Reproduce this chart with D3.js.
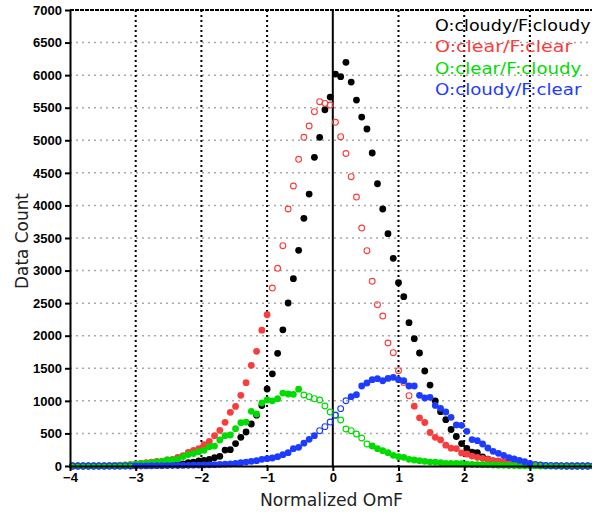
<!DOCTYPE html>
<html>
<head>
<meta charset="utf-8">
<script src="https://cdn.jsdelivr.net/npm/d3@7"></script>
<style>
  body { margin: 0; background: #fff; }
  svg { display: block; }
</style>
</head>
<body>
<svg id="chart" width="592" height="519"></svg>
<script>
// histogram bins of normalized OmF: 100 bins, 0.08 wide, from -4 to 4
const binStart = -3.96, binWidth = 0.08;

const cloudyCloudy = [
  0,0,0,0,0,0,0,1,1,1,
  2,2,3,4,5,6,8,11,15,20,
  25,32,50,61,80,85,100,128,148,245,
  250,345,440,522,645,780,927,1182,1415,1730,
  2090,2502,2875,3311,3802,4175,4739,5046,5469,5664,
  6017,5976,6197,5894,5618,5357,5173,4805,4333,3945,
  3566,3188,2814,2599,2200,1955,1735,1458,1243,998,
  834,711,560,453,345,270,212,205,140,105,
  78,60,45,34,25,18,12,8,5,3,
  2,2,1,1,0,0,0,0,0,0
];
const clearClear = [
  0,0,0,1,1,2,3,5,8,12,
  17,22,30,40,50,60,72,72,92,103,
  133,160,210,240,266,327,378,465,548,670,
  824,915,1085,1279,1546,1760,2085,2322,2732,3035,
  3382,3945,4298,4708,5046,5219,5439,5592,5567,5541,
  5276,5055,4797,4441,4129,3653,3305,2835,2476,2302,
  1888,1739,1463,1280,1079,918,740,668,514,440,
  400,320,274,268,200,184,152,133,118,100,
  82,77,70,60,51,40,30,20,12,8,
  5,3,2,1,1,0,0,0,0,0
];
const clearCloudy = [
  0,0,0,0,1,1,2,3,5,8,
  12,20,30,41,41,51,61,72,92,92,
  103,145,175,190,220,240,296,306,399,465,
  476,573,665,675,840,798,967,1013,1000,1033,
  1120,1105,1100,1180,1090,1064,1033,1013,921,829,
  783,706,568,542,491,430,338,307,266,235,
  204,164,143,133,103,92,82,72,61,61,
  51,41,41,38,35,30,25,22,20,18,
  15,12,10,8,6,5,4,3,2,2,
  1,1,1,0,0,0,0,0,0,0
];
const cloudyClear = [
  0,0,0,0,0,0,0,0,0,1,
  1,1,2,3,3,4,5,5,6,7,
  8,9,10,12,14,16,18,20,24,28,
  34,41,51,61,72,82,102,113,123,143,
  174,204,266,287,350,410,465,542,604,675,
  778,880,1002,1064,1095,1228,1274,1325,1340,1309,
  1345,1361,1325,1309,1228,1228,1085,1044,1054,930,
  885,829,747,630,624,532,405,389,338,276,
  225,195,164,128,108,87,66,41,25,15,
  8,5,3,2,1,0,0,0,0,0
];

const seriesNames = ["O:cloudy/F:cloudy", "O:clear/F:clear", "O:clear/F:cloudy", "O:cloudy/F:clear"];
const seriesValues = [cloudyCloudy, clearClear, clearCloudy, cloudyClear];
// x ranges where a series is plotted with open circles
const openRanges = [[], [[-0.95, 1.2]], [[-0.48, 0.56]], [[-4, -3.02], [-0.24, 0.24], [3.02, 4]]];

const yTicks = [0,500,1000,1500,2000,2500,3000,3500,4000,4500,5000,5500,6000,6500,7000];
const xTicks = [-4,-3,-2,-1,0,1,2,3];
const xTickLabels = ["\u22124","\u22123","\u22122","\u22121","0","1","2","3"];

const colors = ["#000000", "#fa3c3c", "#00dc00", "#1e3cff"];

const svg = d3.select("#chart");
const x = d3.scaleLinear().domain([-4, 4]).range([70, 595.6]);
const y = d3.scaleLinear().domain([0, 7000]).range([466, 10]);

// horizontal grey grid
svg.append("g").selectAll("line").data(yTicks.filter(d => d > 0 && d < 7000)).enter().append("line")
  .attr("x1", x(-4)).attr("x2", x(4))
  .attr("y1", d => y(d)).attr("y2", d => y(d))
  .attr("stroke", "#a8a8a8").attr("stroke-width", 1.5).attr("stroke-dasharray", "2,4");

// vertical black dotted grid
svg.append("g").selectAll("line").data(xTicks.filter(d => d != 0 && d != -4)).enter().append("line")
  .attr("x1", d => x(d)).attr("x2", d => x(d))
  .attr("y1", y(7000)).attr("y2", y(0))
  .attr("stroke", "#000").attr("stroke-width", 2).attr("stroke-dasharray", "2,3");

// zero line
svg.append("line")
  .attr("x1", x(0)).attr("x2", x(0)).attr("y1", y(7000)).attr("y2", y(0))
  .attr("stroke", "#000").attr("stroke-width", 2);

// markers
seriesValues.forEach(function(vals, s) {
  let isOpen = c => openRanges[s].some(r => c >= r[0] && c <= r[1]);
  let pts = vals.map((v, i) => ({c: binStart + i * binWidth, v: v}));
  let g = svg.append("g");
  g.selectAll("circle").data(pts).enter().append("circle")
    .attr("cx", d => x(d.c))
    .attr("cy", d => y(d.v))
    .attr("r", d => isOpen(d.c) ? 2.9 : 3.4)
    .attr("fill", d => isOpen(d.c) ? "none" : colors[s])
    .attr("stroke", d => isOpen(d.c) ? colors[s] : "none")
    .attr("stroke-width", 1.1);
});

// top frame
svg.append("line")
  .attr("x1", x(-4)).attr("x2", x(4)).attr("y1", y(7000)).attr("y2", y(7000))
  .attr("stroke", "#000").attr("stroke-width", 2).attr("stroke-dasharray", "4,1");

// axes
let yAxis = d3.axisLeft(y).tickValues(yTicks).tickSize(5).tickSizeOuter(0).tickPadding(3)
  .tickFormat(d3.format("d"));
let gy = svg.append("g").attr("transform", "translate(" + x(-4) + ",0)").call(yAxis);
let xAxis = d3.axisBottom(x).tickValues(xTicks).tickSize(5).tickSizeOuter(0).tickPadding(2)
  .tickFormat((d, i) => xTickLabels[i]);
let gx = svg.append("g").attr("transform", "translate(0," + y(0) + ")").call(xAxis);
[gx, gy].forEach(function(g) {
  g.select(".domain").attr("stroke", "#000").attr("stroke-width", 2);
  g.selectAll(".tick line").attr("stroke", "#000").attr("stroke-width", 2);
  g.selectAll(".tick text")
    .attr("fill", "#000")
    .style("font-family", "'Liberation Sans', Arial, sans-serif")
    .style("font-weight", "bold")
    .style("font-size", "13px");
});

// axis titles
svg.append("text")
  .attr("x", 260).attr("y", 506)
  .attr("textLength", 143).attr("lengthAdjust", "spacingAndGlyphs")
  .style("font-family", "'DejaVu Sans', sans-serif").style("font-size", "17px")
  .attr("fill", "#222")
  .text("Normalized OmF");
svg.append("text")
  .attr("transform", "translate(28,289) rotate(-90)")
  .attr("textLength", 96).attr("lengthAdjust", "spacingAndGlyphs")
  .style("font-family", "'DejaVu Sans', sans-serif").style("font-size", "17px")
  .attr("fill", "#222")
  .text("Data Count");

// legend
svg.append("g").selectAll("text").data(seriesNames).enter().append("text")
  .attr("x", 435)
  .attr("y", (d, i) => 31 + i * 21.4)
  .attr("textLength", d => d.length * 9.15)
  .attr("lengthAdjust", "spacingAndGlyphs")
  .attr("fill", (d, i) => colors[i])
  .style("font-family", "'DejaVu Sans', sans-serif").style("font-size", "15px")
  .text(d => d);
</script>
</body>
</html>
